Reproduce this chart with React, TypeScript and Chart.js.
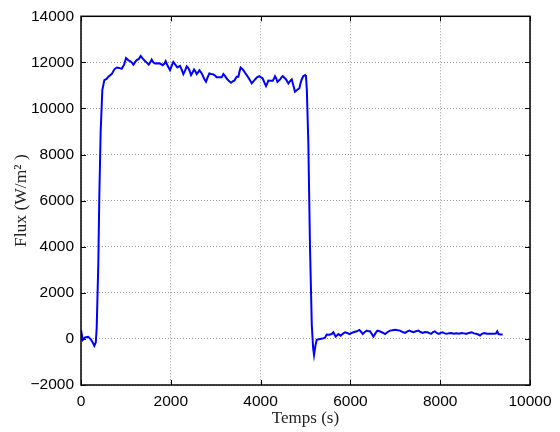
import React, { useEffect, useRef } from "react";
import { Chart, registerables } from "chart.js";

Chart.register(...registerables);

const times: number[] = [
  0, 40, 90, 160, 220, 260, 296, 330, 350, 386, 408, 438, 475, 520, 570, 610, 683, 744, 795, 850,
  906, 960, 1002, 1050, 1091, 1130, 1166, 1200, 1240, 1290, 1329, 1380, 1426, 1470, 1508, 1540, 1574, 1610, 1648, 1700,
  1760, 1820, 1860, 1886, 1930, 1982, 2020, 2056, 2100, 2146, 2205, 2240, 2280, 2320, 2354, 2390, 2414, 2451, 2490, 2518,
  2550, 2577, 2610, 2637, 2660, 2689, 2740, 2784, 2820, 2858, 2900, 2947, 2990, 3022, 3080, 3133, 3170, 3210, 3245, 3290,
  3341, 3380, 3415, 3467, 3505, 3530, 3556, 3590, 3616, 3650, 3690, 3740, 3770, 3802, 3840, 3876, 3920, 3972, 4010, 4047,
  4090, 4121, 4150, 4173, 4220, 4270, 4300, 4322, 4350, 4374, 4400, 4434, 4465, 4493, 4530, 4567, 4600, 4619, 4660, 4694,
  4730, 4766, 4810, 4863, 4890, 4915, 4950, 4989, 5010, 5030, 5063, 5100, 5140, 5170, 5190, 5220, 5250, 5325, 5400, 5434,
  5472, 5530, 5583, 5620, 5672, 5731, 5784, 5830, 5880, 5930, 5977, 6020, 6067, 6141, 6200, 6240, 6275, 6320, 6364, 6400,
  6438, 6480, 6512, 6560, 6601, 6650, 6698, 6740, 6772, 6830, 6884, 6940, 6995, 7050, 7106, 7160, 7218, 7270, 7315, 7360,
  7404, 7460, 7515, 7560, 7610, 7660, 7716, 7760, 7800, 7840, 7880, 7930, 7970, 8010, 8050, 8100, 8150, 8200, 8244, 8300,
  8360, 8420, 8478, 8530, 8580, 8640, 8701, 8750, 8800, 8850, 8886, 8930, 8980, 9040, 9109, 9180, 9240, 9272, 9300, 9340,
  9391,
];

const flux: number[] = [
  390, -40, 60, 90, -20, -150, -300, -150, 500, 3300, 6200, 9000, 10800, 11230, 11280, 11380, 11490, 11700, 11780, 11760,
  11720, 11900, 12190, 12100, 12060, 12000, 11900, 12000, 12100, 12150, 12280, 12150, 12060, 11980, 11900, 12000, 12120, 12000, 11950, 11960,
  11950, 11880, 11950, 12050, 11850, 11660, 11850, 12020, 11900, 11780, 11850, 11700, 11490, 11650, 11830, 11750, 11660, 11450, 11580, 11690,
  11600, 11490, 11580, 11660, 11600, 11520, 11300, 11160, 11350, 11520, 11500, 11480, 11420, 11350, 11350, 11350, 11490, 11400, 11300, 11200,
  11120, 11180, 11210, 11380, 11380, 11600, 11780, 11720, 11660, 11560, 11450, 11300, 11200, 11090, 11180, 11260, 11350, 11400, 11350, 11300,
  11100, 10970, 11100, 11210, 11200, 11200, 11300, 11400, 11300, 11150, 11200, 11260, 11350, 11400, 11330, 11260, 11150, 11090, 11200, 11260,
  11000, 10730, 10800, 10880, 11100, 11260, 11400, 11450, 11400, 10800, 8500, 4000, 600, -400, -700, -300, -40, 0, 30, 50,
  190, 180, 210, 290, 100, 210, 140, 220, 290, 260, 210, 250, 290, 330, 390, 300, 210, 300, 360, 330,
  330, 200, 100, 250, 360, 330, 290, 250, 210, 300, 360, 380, 400, 380, 360, 300, 260, 330, 360, 320,
  290, 330, 360, 300, 260, 300, 290, 250, 220, 300, 330, 250, 220, 260, 290, 240, 220, 250, 260, 230,
  250, 230, 260, 240, 220, 260, 290, 240, 220, 190, 146, 220, 250, 220, 220, 220, 230, 330, 210, 190,
  190,
];

const xTicks: number[] = [0, 2000, 4000, 6000, 8000, 10000];
const yTicks: number[] = [-2000, 0, 2000, 4000, 6000, 8000, 10000, 12000, 14000];

const xTitle = "Temps (s)";
const yTitle = "Flux (W/m² )";

const boxPlugin = {
  id: "matlabBox",
  afterDraw(chart: any) {
    const { ctx, chartArea } = chart;
    const { left, right, top, bottom } = chartArea;
    const xs = chart.scales.x;
    const ys = chart.scales.y;
    const tl = 5;
    ctx.save();
    ctx.strokeStyle = "#000";
    ctx.lineWidth = 1;
    ctx.beginPath();
    xTicks.forEach((v) => {
      const px = Math.round(xs.getPixelForValue(v)) + 0.5;
      ctx.moveTo(px, bottom);
      ctx.lineTo(px, bottom - tl);
      ctx.moveTo(px, top);
      ctx.lineTo(px, top + tl);
    });
    yTicks.forEach((v) => {
      const py = Math.round(ys.getPixelForValue(v)) + 0.5;
      ctx.moveTo(left, py);
      ctx.lineTo(left + tl, py);
      ctx.moveTo(right, py);
      ctx.lineTo(right - tl, py);
    });
    ctx.stroke();
    ctx.lineWidth = 1.5;
    ctx.strokeRect(left, top, right - left, bottom - top);
    ctx.restore();
  },
};

export default function App() {
  const canvasRef = useRef<HTMLCanvasElement | null>(null);

  useEffect(() => {
    const canvas = canvasRef.current;
    if (!canvas) return;
    const points = times.map((t, i) => ({ x: t, y: flux[i] }));
    const chart = new Chart(canvas, {
      type: "line",
      data: {
        datasets: [
          {
            data: points,
            borderColor: "#0000ff",
            borderWidth: 2,
            pointRadius: 0,
            tension: 0,
            fill: false,
          },
        ],
      },
      options: {
        animation: false,
        responsive: false,
        maintainAspectRatio: false,
        layout: { padding: { left: 0, top: 12, right: 30, bottom: 0 } },
        plugins: {
          legend: { display: false },
          tooltip: { enabled: false },
        },
        scales: {
          x: {
            type: "linear",
            min: 0,
            max: 10000,
            afterBuildTicks: (scale: any) => {
              scale.ticks = xTicks.map((v) => ({ value: v }));
            },
            afterFit: (scale: any) => {
              scale.height = 47;
            },
            ticks: {
              color: "#000",
              padding: 7,
              maxRotation: 0,
              font: { family: "'Liberation Sans', Arial, sans-serif", size: 15.5 },
              callback: (v: any) => String(v).replace("-", "\u2212"),
            },
            grid: {
              color: "rgba(0,0,0,0.4)",
              lineWidth: 1,
              drawTicks: false,
            },
            border: { display: false, dash: [1, 2] },
            title: {
              display: true,
              text: xTitle,
              color: "#222",
              padding: { top: 0, bottom: 3 },
              font: { family: "'Liberation Serif', 'Times New Roman', serif", size: 17 },
            },
          },
          y: {
            type: "linear",
            min: -2000,
            max: 14000,
            afterBuildTicks: (scale: any) => {
              scale.ticks = yTicks.map((v) => ({ value: v }));
            },
            afterFit: (scale: any) => {
              scale.width = 81;
            },
            ticks: {
              color: "#000",
              padding: 7,
              font: { family: "'Liberation Sans', Arial, sans-serif", size: 15.5 },
              callback: (v: any) => String(v).replace("-", "\u2212"),
            },
            grid: {
              color: "rgba(0,0,0,0.4)",
              lineWidth: 1,
              drawTicks: false,
            },
            border: { display: false, dash: [1, 2] },
            title: {
              display: true,
              text: yTitle,
              color: "#222",
              padding: { top: 11, bottom: 0 },
              font: { family: "'Liberation Serif', 'Times New Roman', serif", size: 17.5 },
            },
          },
        },
      },
      plugins: [boxPlugin],
    });
    return () => chart.destroy();
  }, []);

  return (
    <div style={{ position: "absolute", left: 0, top: 0, width: 560, height: 432, background: "#fff" }}>
      <canvas ref={canvasRef} width={560} height={432} style={{ width: 560, height: 432, display: "block" }} />
    </div>
  );
}
